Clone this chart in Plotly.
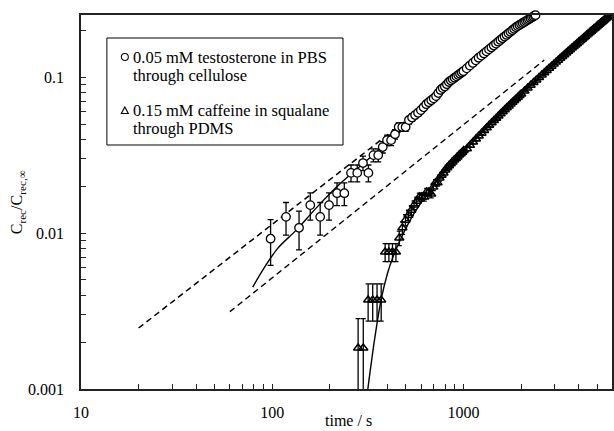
import plotly.graph_objects as go

# ---------------- data ----------------
# 0.05 mM testosterone in PBS through cellulose (circles)
t_testo = [98, 118, 138, 158, 178, 198, 218, 238, 258, 278, 298, 318, 338, 358, 378, 398, 418, 438,
           458, 478, 498, 518, 538, 558, 578, 598, 618, 638, 658, 678, 698, 718, 738, 758, 778, 798,
           818, 838, 858, 878, 898, 918, 938, 958, 978, 998, 1038, 1078, 1118, 1158, 1198, 1238,
           1278, 1318, 1358, 1398, 1438, 1478, 1518, 1558, 1598, 1638, 1678, 1718, 1758, 1798,
           1838, 1878, 1918, 1958, 1998, 2038, 2078, 2118, 2158, 2198, 2238, 2278, 2318, 2358, 2378]
c_testo = [0.0092, 0.0127, 0.0108, 0.0151, 0.0127, 0.0151, 0.0180, 0.0180, 0.0243, 0.0243, 0.0281,
           0.0243, 0.0316, 0.0316, 0.0356, 0.0394, 0.0394, 0.0430, 0.0478, 0.0478, 0.0478, 0.0530,
           0.0550, 0.0571, 0.0590, 0.0614, 0.0640, 0.0670, 0.0690, 0.0710, 0.0730, 0.0755, 0.0790,
           0.0826, 0.0850, 0.0870, 0.0900, 0.0930, 0.0950, 0.0970, 0.0990, 0.1010, 0.1030, 0.1050,
           0.1070, 0.1090, 0.1137, 0.1185, 0.1232, 0.1280, 0.1330, 0.1372, 0.1416, 0.1461, 0.1505,
           0.1549, 0.1594, 0.1638, 0.1686, 0.1730, 0.1774, 0.1819, 0.1863, 0.1908, 0.1952, 0.1996,
           0.2040, 0.2088, 0.2121, 0.2155, 0.2188, 0.2221, 0.2254, 0.2286, 0.2319, 0.2351, 0.2383,
           0.2416, 0.2447, 0.2479, 0.2495]
err_testo = 0.003

# 0.15 mM caffeine in squalane through PDMS (triangles)
t_caff = [281, 299, 317, 335, 353, 371, 389, 407, 425, 443, 461, 479, 497, 515, 533, 551, 569, 587,
          605, 623, 641, 659, 677, 695, 713, 731, 749, 767, 785, 803, 821, 839, 857, 875, 893, 911,
          929, 947, 965, 983, 1001, 1041, 1081, 1121, 1161, 1201, 1241, 1281, 1321, 1361, 1401,
          1441, 1481, 1521, 1561, 1601, 1641, 1681, 1721, 1761, 1801, 1841, 1881, 1921, 1961, 2001,
          2081, 2161, 2241, 2321, 2401, 2481, 2561, 2641, 2721, 2801, 2881, 2961, 3041, 3121, 3201,
          3281, 3361, 3441, 3521, 3601, 3681, 3761, 3841, 3921, 4001, 4081, 4161, 4241, 4321, 4401,
          4481, 4561, 4641, 4721, 4801, 4881, 4961, 5041, 5121, 5201, 5281, 5361, 5441, 5521, 5601,
          5681, 5761, 5841]
c_caff = [0.00183, 0.00183, 0.00372, 0.00372, 0.00372, 0.00372, 0.00755, 0.00755, 0.00755, 0.00755,
          0.0093, 0.0108, 0.0121, 0.0130, 0.0140, 0.0151, 0.0160, 0.0170, 0.0170, 0.0170, 0.0183,
          0.0183, 0.0178, 0.0197, 0.0210, 0.0210, 0.0225, 0.0235, 0.0243, 0.0254, 0.0262, 0.0270,
          0.0278, 0.0285, 0.0294, 0.0300, 0.0307, 0.0316, 0.0322, 0.0330, 0.0338, 0.0347, 0.0365,
          0.0383, 0.0401, 0.0419, 0.0437, 0.0455, 0.0473, 0.0491, 0.0509, 0.0527, 0.0545, 0.0563,
          0.0581, 0.0599, 0.0617, 0.0635, 0.0653, 0.0671, 0.0689, 0.0707, 0.0725, 0.0743, 0.0761,
          0.0779, 0.0815, 0.0851, 0.0887, 0.0923, 0.0959, 0.0995, 0.1031, 0.1067, 0.1103, 0.1139,
          0.1175, 0.1211, 0.1247, 0.1283, 0.1319, 0.1355, 0.1391, 0.1427, 0.1463, 0.1499, 0.1535,
          0.1571, 0.1607, 0.1643, 0.1679, 0.1715, 0.1751, 0.1787, 0.1823, 0.1859, 0.1895, 0.1931,
          0.1967, 0.2003, 0.2039, 0.2075, 0.2111, 0.2147, 0.2183, 0.2219, 0.2255, 0.2291, 0.2327,
          0.2363, 0.2399, 0.2435, 0.2471, 0.2507]
err_caff = 0.001

# model fits (solid lines)
t_fit_testo = [79, 90, 107, 133, 170, 228, 300, 400, 500, 600, 800, 1000, 1500, 2000, 2370]
c_fit_testo = [0.0045, 0.0059, 0.0080, 0.0104, 0.0145, 0.0209, 0.0280, 0.0380, 0.0480, 0.0600,
               0.0860, 0.1090, 0.1650, 0.2150, 0.2490]
t_fit_caff = [310, 316, 330, 344, 370, 400, 427, 470, 550, 650, 800, 1000, 1500, 2000, 3000, 4000,
              5000, 6000]
c_fit_caff = [0.0008, 0.0010, 0.0015, 0.00215, 0.0037, 0.0055, 0.0070, 0.0092, 0.0133, 0.0180,
              0.0250, 0.0335, 0.0555, 0.0780, 0.1230, 0.1680, 0.2130, 0.2580]

# asymptotes (dashed lines)
t_dash_testo = [20, 500]
c_dash_testo = [0.00246, 0.0526]
t_dash_caff = [60, 2640]
c_dash_caff = [0.00313, 0.1285]

legend_lines = ["0.05 mM testosterone in PBS", "through cellulose",
                "0.15 mM caffeine in squalane", "through PDMS"]

# ---------------- figure ----------------
W, H = 614, 431
ML, MR, MT, MB = 81, 0, 15, 42
PW, PH = W - ML - MR, H - MT - MB


def px(x):
    return (x - ML) / PW


def py(y):
    return (H - MB - y) / PH


FONT = "Liberation Serif"
AX = "#222222"

fig = go.Figure()

fig.add_trace(go.Scatter(x=t_dash_testo, y=c_dash_testo, mode="lines",
                         line=dict(color="black", width=1.5, dash="6px,4px"), showlegend=False))
fig.add_trace(go.Scatter(x=t_dash_caff, y=c_dash_caff, mode="lines",
                         line=dict(color="black", width=1.5, dash="6px,4px"), showlegend=False))
fig.add_trace(go.Scatter(x=t_fit_testo, y=c_fit_testo, mode="lines", line_shape="spline",
                         line=dict(color="black", width=1.4), showlegend=False))
fig.add_trace(go.Scatter(x=t_fit_caff, y=c_fit_caff, mode="lines", line_shape="spline",
                         line=dict(color="black", width=1.4), showlegend=False))

fig.add_trace(go.Scatter(
    x=t_caff, y=c_caff, mode="markers", showlegend=False,
    marker=dict(symbol="triangle-up-open", size=8, color="black", line=dict(width=1.5, color="black")),
    error_y=dict(type="constant", value=err_caff, color="black", thickness=1.3, width=2.5)))

fig.add_trace(go.Scatter(
    x=t_testo, y=c_testo, mode="markers", showlegend=False, cliponaxis=False,
    marker=dict(symbol="circle", size=8.5, color="white", line=dict(width=1.3, color="black")),
    error_y=dict(type="constant", value=err_testo, color="black", thickness=1.3, width=3)))

# legend box
fig.add_shape(type="rect", xref="paper", yref="paper", x0=px(107), x1=px(344), y0=py(145), y1=py(38),
              line=dict(color="black", width=1), fillcolor="rgba(0,0,0,0)", layer="above")
fig.add_shape(type="circle", xref="paper", yref="paper", x0=px(121.5), x1=px(128.5), y0=py(60.5),
              y1=py(53.5), line=dict(color="black", width=1.1), fillcolor="white")
fig.add_shape(type="path", xref="paper", yref="paper",
              path=f"M {px(121.5)} {py(113.5)} L {px(128.5)} {py(113.5)} L {px(125)} {py(107)} Z",
              line=dict(color="black", width=1.1), fillcolor="white")
for txt, yy in zip(legend_lines, [57, 75, 110, 128]):
    fig.add_annotation(x=px(131), y=py(yy), xref="paper", yref="paper", text=txt, showarrow=False,
                       xanchor="left", yanchor="middle", font=dict(family=FONT, size=16.5, color="black"))

# axis titles
fig.add_annotation(x=px(17), y=0.5, xref="paper", yref="paper",
                   text="C<sub>rec</sub>/C<sub>rec,∞</sub>", textangle=-90, showarrow=False,
                   xanchor="center", yanchor="middle", font=dict(family=FONT, size=16, color="black"))
fig.add_annotation(x=px(350), y=py(421), xref="paper", yref="paper", text="time / s", showarrow=False,
                   xanchor="center", yanchor="middle", font=dict(family=FONT, size=16, color="black"))

common = dict(type="log", showline=True, linecolor=AX, linewidth=1.5, mirror=True,
              ticks="inside", ticklen=5, tickwidth=1.2, tickcolor=AX,
              tickmode="linear", tick0=0, dtick=1, showgrid=False, zeroline=False,
              minor=dict(ticks="inside", ticklen=5, tickwidth=1.2, tickcolor=AX, dtick="D1",
                         showgrid=False),
              tickfont=dict(family=FONT, size=16, color="black"))

fig.update_xaxes(range=[1, 3.776], ticklabelstandoff=8, **common)
fig.update_yaxes(range=[-3, -0.602], ticklabelstandoff=12, **common)

fig.update_layout(width=W, height=H, margin=dict(l=ML, r=MR, t=MT, b=MB),
                  paper_bgcolor="white", plot_bgcolor="white", showlegend=False,
                  font=dict(family=FONT, color="black"))

fig.write_html("out.html", config={"displayModeBar": False},
               post_script="document.body.style.margin='0px';")
